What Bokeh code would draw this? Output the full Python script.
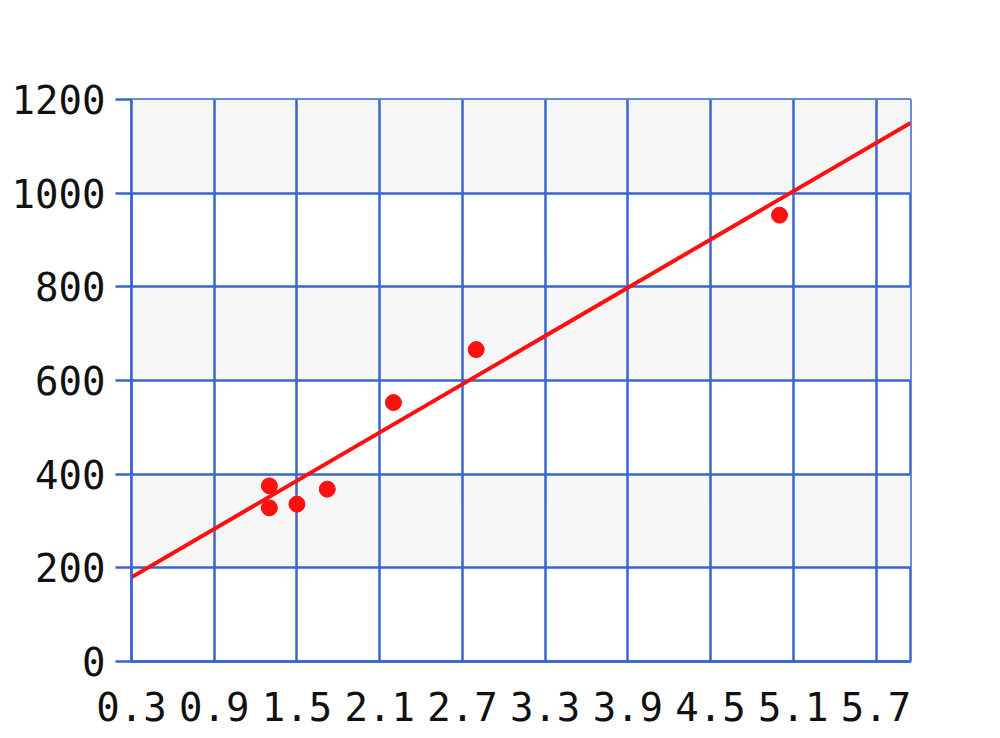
from bokeh.plotting import figure
from bokeh.models import FixedTicker, Range1d, Grid
from bokeh.embed import file_html
from bokeh.resources import INLINE

# data
pts_x = [1.30, 1.30, 1.50, 1.72, 2.20, 2.80, 5.00]
pts_y = [375, 328, 336, 368, 553, 666, 953]
trend_x = [0.3, 5.95]
trend_y = [180, 1150]
x_ticks = [0.3, 0.9, 1.5, 2.1, 2.7, 3.3, 3.9, 4.5, 5.1, 5.7]
x_labels = ["0.3", "0.9", "1.5", "2.1", "2.7", "3.3", "3.9", "4.5", "5.1", "5.7"]
y_ticks = [0, 200, 400, 600, 800, 1000, 1200]

BLUE = "#3a66cc"
FONT = "DejaVu Sans Mono"

p = figure(frame_width=779, frame_height=562, output_backend="svg",
           toolbar_location=None, x_range=Range1d(0.3, 5.95),
           y_range=Range1d(0, 1200), min_border_left=131, min_border_top=99,
           min_border_right=60, min_border_bottom=70)
p.background_fill_color = "white"
p.border_fill_color = "white"
p.outline_line_color = BLUE
p.outline_line_width = 2.5

p.xaxis.ticker = FixedTicker(ticks=x_ticks)
p.xaxis.major_label_overrides = {t: l for t, l in zip(x_ticks, x_labels)}
p.yaxis.ticker = FixedTicker(ticks=y_ticks)

for ax in (p.xaxis, p.yaxis):
    ax.axis_line_color = BLUE
    ax.axis_line_width = 2.5
    ax.major_tick_line_color = BLUE
    ax.major_tick_line_width = 2.5
    ax.minor_tick_line_color = None
    ax.major_tick_in = 0
    ax.major_label_text_font = FONT
    ax.major_label_text_font_size = "39px"
    ax.major_label_text_color = "#111111"
p.xaxis.major_tick_out = 0
p.xaxis.major_label_standoff = 30
p.yaxis.major_tick_out = 16
p.yaxis.major_label_standoff = 10

p.xgrid.grid_line_color = BLUE
p.xgrid.grid_line_width = 2.5
p.ygrid.grid_line_color = BLUE
p.ygrid.grid_line_width = 2.5

bands = Grid(dimension=1, ticker=FixedTicker(ticks=y_ticks), grid_line_color=None,
             band_fill_color="#f6f6f6", band_fill_alpha=1.0, level="image")
p.add_layout(bands)

p.line(trend_x, trend_y, line_color="#ff1010", line_width=4)
p.scatter(pts_x, pts_y, size=16, fill_color="#ff1010", line_color="#ff1010")

open("out.html", "w").write(file_html(p, INLINE))
